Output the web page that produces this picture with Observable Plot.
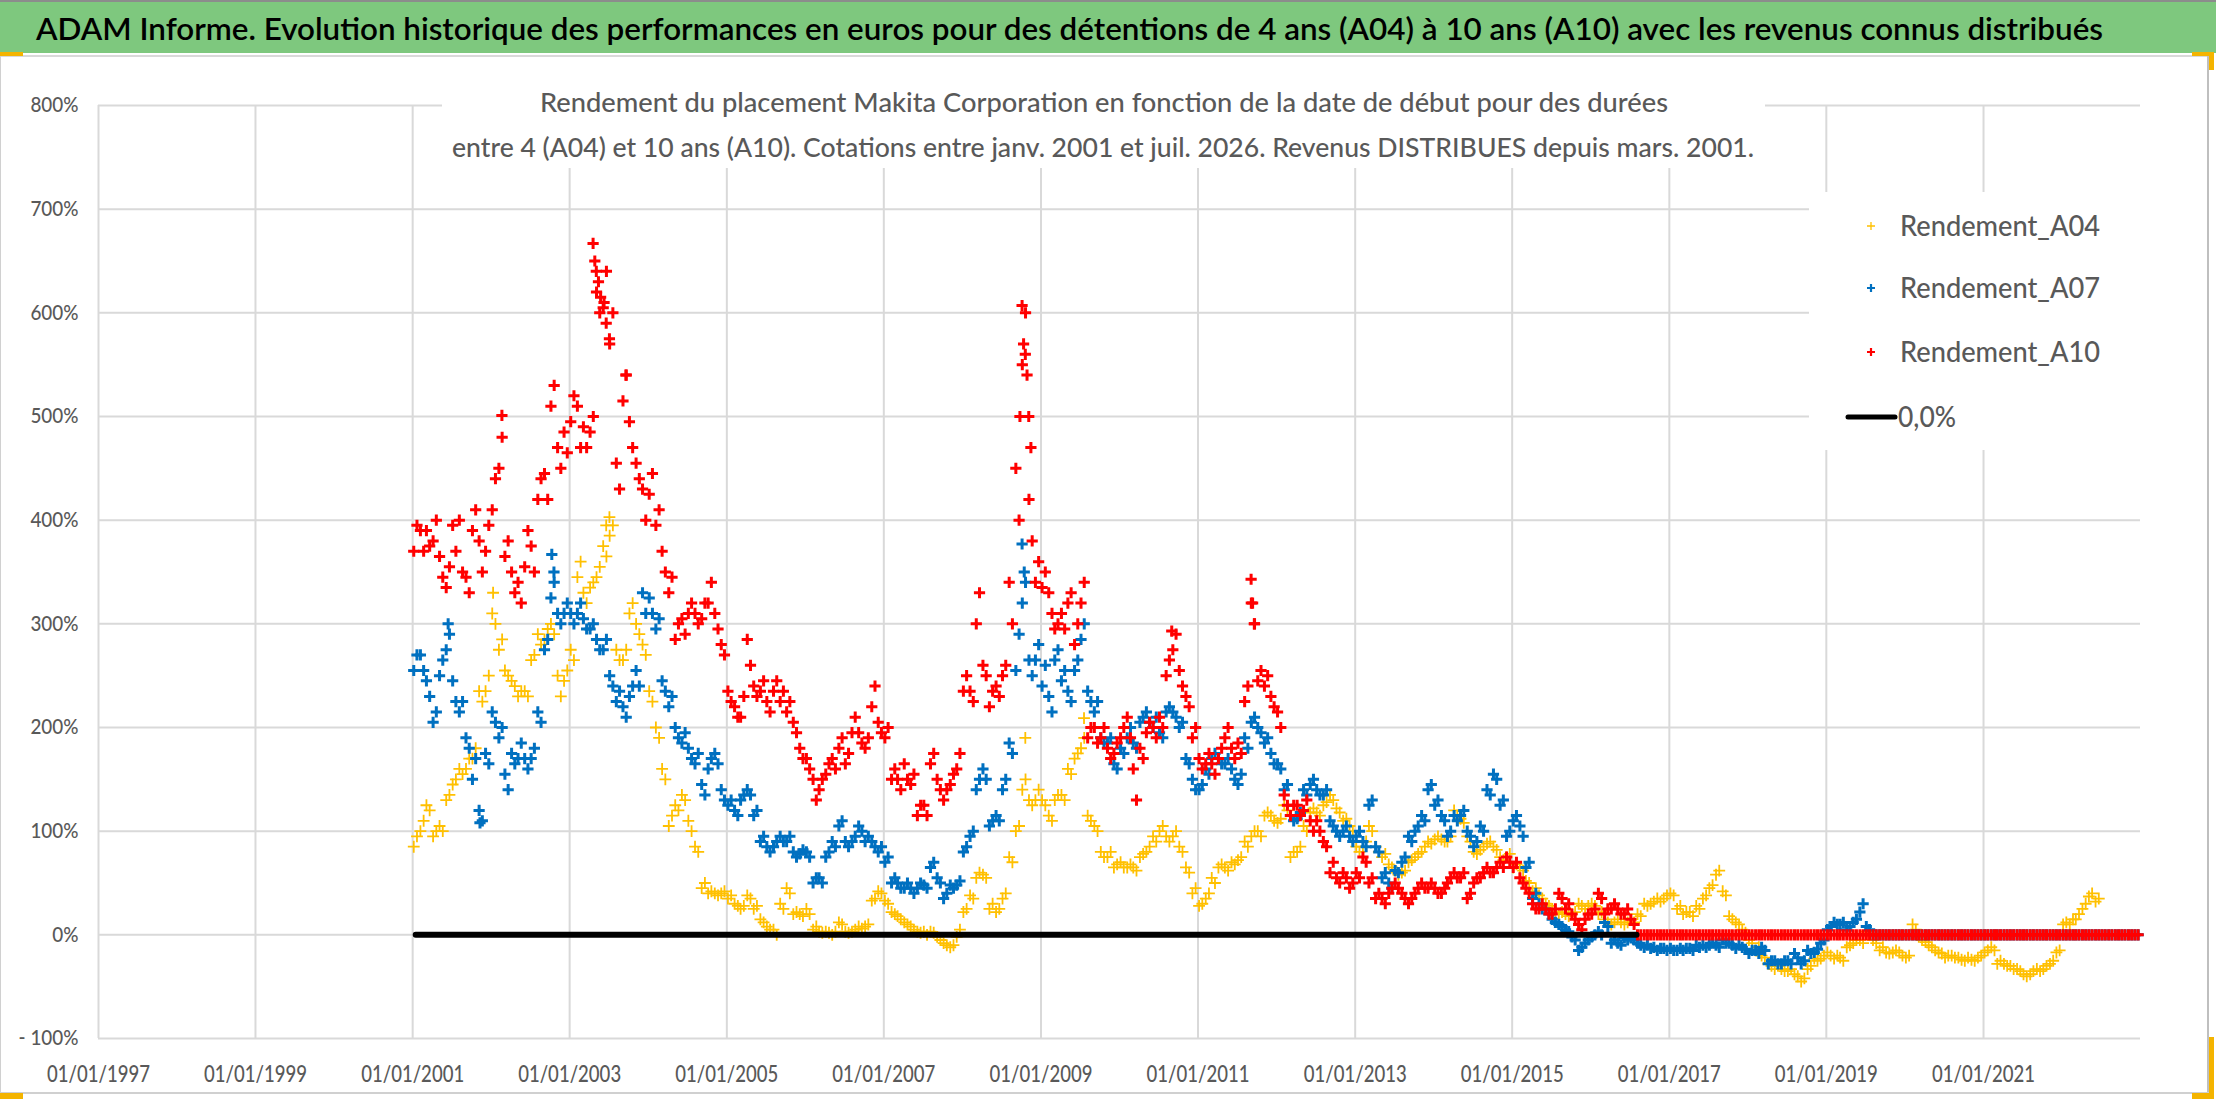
<!DOCTYPE html>
<html><head><meta charset="utf-8">
<script src="https://cdn.jsdelivr.net/npm/d3@7"></script>
<script src="https://cdn.jsdelivr.net/npm/@observablehq/plot@0.6"></script>
<style>
body{margin:0;background:#fff;}
#chart{position:relative;width:2216px;height:1102px;overflow:hidden;background:#fff;font-family:Lato,sans-serif;}
#plot{position:absolute;left:0;top:54px;}
#ov{position:absolute;left:0;top:0;pointer-events:none;}
</style></head><body>
<div id="chart"><div id="plot"></div><svg id="ov" width="2216" height="1102"></svg></div>
<script>
const TITLE = "ADAM Informe. Evolution historique des performances en euros pour des détentions de 4 ans (A04) à 10 ans (A10) avec les revenus connus distribués";
const SUBTITLE = [
  "Rendement du placement Makita Corporation en fonction de la date de début pour des durées",
  "entre 4 (A04) et 10 ans (A10). Cotations entre janv. 2001 et juil. 2026. Revenus DISTRIBUES depuis mars. 2001."
];
const seriesNames = ["Rendement_A04", "Rendement_A07", "Rendement_A10"];
const zeroName = "0,0%";
const seriesColors = ["#FFC000", "#0070C0", "#FF0000"];
const xTickYears = [1997, 1999, 2001, 2003, 2005, 2007, 2009, 2011, 2013, 2015, 2017, 2019, 2021];
const yTicks = [-100, 0, 100, 200, 300, 400, 500, 600, 700, 800];
const xDomain = ["1997-01-01", "2023-01-01"];
const startYear = 2001; // monthly values, first month = janv. 2001

// Rendement_A04 (%), early-month reading, one value per month from janv. 2001
const a04 = [
  85,100,125,95,105,130,145,160,160,170,235,235,
  310,275,255,245,230,235,265,290,285,300,250,245,
  275,345,330,335,345,375,385,275,265,310,300,280,
  235,200,160,105,125,135,110,85,45,40,40,40,
  35,30,25,38,25,15,8,5,30,45,20,20,
  25,5,3,3,0,12,3,3,8,8,33,42,
  33,22,18,12,8,3,3,3,-2,-8,-12,-2,
  22,38,55,58,25,22,35,75,100,140,130,130,
  130,115,130,135,160,170,180,115,105,80,75,65,
  70,65,65,75,80,95,100,95,95,85,65,40,
  28,35,55,65,65,70,72,90,95,100,115,115,
  108,125,75,80,105,118,118,125,135,122,110,105,
  85,85,105,85,75,68,62,60,70,75,80,90,
  92,92,90,120,112,95,80,82,88,85,75,75,
  65,65,52,42,38,30,25,20,20,20,30,25,
  30,20,15,10,15,10,15,20,30,30,35,35,
  40,25,20,22,28,35,45,58,42,18,12,5,
  -5,-15,-20,-28,-33,-33,-35,-38,-45,-33,-23,-23,
  -17,-23,-22,-12,-8,-5,3,-5,-15,-17,-17,-17,
  -22,10,-2,-7,-12,-17,-22,-20,-22,-25,-24,-22,
  -17,-12,-28,-28,-30,-33,-38,-38,-33,-33,-28,-17,
  10,10,15,25,37,32
];
// Rendement_A04 (%), late-month reading (other side of the cluster)
const a04Late = [
  95,110,120,100,100,135,150,155,170,180,225,250,
  300,285,250,240,235,230,270,280,295,290,230,255,
  265,360,320,340,355,365,395,265,275,320,290,270,
  225,190,150,115,120,130,100,80,50,42,38,42,
  38,28,28,35,28,12,5,0,25,40,22,18,
  20,8,2,2,3,10,2,5,6,10,35,40,
  30,20,15,10,5,2,0,2,-5,-10,-10,5,
  25,35,60,55,30,25,40,70,105,150,125,140,
  125,110,135,130,155,175,190,110,100,75,80,68,
  65,68,62,78,85,90,105,90,100,80,60,45,
  30,40,50,68,62,68,75,85,100,95,118,110,
  112,120,80,85,100,122,115,128,130,118,112,100,
  80,90,100,80,78,65,58,62,72,78,85,88,
  95,90,95,115,108,90,78,85,90,82,72,78,
  68,62,50,45,35,28,22,22,18,22,28,28,
  28,22,12,12,12,12,12,18,28,32,32,38,
  38,28,22,18,25,38,48,62,38,15,10,2,
  -8,-12,-22,-30,-30,-35,-33,-40,-42,-30,-25,-20,
  -20,-20,-25,-10,-5,-8,0,-8,-12,-18,-15,-20,
  -20,5,-5,-10,-15,-18,-20,-22,-24,-22,-25,-20,
  -15,-15,-25,-30,-33,-35,-40,-35,-35,-30,-25,-15,
  12,15,20,30,40,35
];
// Rendement_A07 (%), early-month reading, from janv. 2001
const a07 = [
  255,270,245,205,250,275,245,215,190,150,120,175,
  215,190,155,175,170,170,170,215,275,325,310,310,
  310,310,305,295,285,275,250,225,220,230,255,330,
  325,295,245,220,200,185,180,165,145,160,175,140,
  125,120,130,140,115,90,85,85,95,90,80,78,
  80,50,55,75,90,105,90,90,105,90,90,80,
  70,50,50,45,45,45,48,65,55,35,48,48,
  80,95,140,160,105,115,140,185,255,320,265,265,
  240,230,265,245,235,255,285,235,215,190,185,165,
  180,190,185,205,215,200,195,215,215,200,170,150,
  140,160,170,170,165,160,145,190,205,200,185,175,
  165,140,115,112,140,145,140,135,110,100,100,95,
  95,90,125,85,55,50,62,70,95,100,115,140,
  125,115,95,115,115,100,85,105,140,155,125,95,
  110,105,65,35,30,25,15,10,5,-2,-15,-8,
  -2,3,12,-8,-8,-3,-3,-8,-12,-13,-15,-13,
  -13,-15,-15,-13,-10,-10,-10,-10,-5,-8,-13,-12,
  -18,-15,-12,-28,-25,-28,-25,-18,-28,-15,-17,-8,
  5,12,10,5,12,22,8,0,0,0,0,0,
  0,0,0,0,0,0,0,0,0,0,0,0,
  0,0,0,0,0,0,0,0,0,0,0,0,
  0,0,0,0,0,0,0,0,0,0,0,0
];
// Rendement_A07 (%), late-month reading
const a07Late = [
  270,255,230,215,265,290,225,225,180,170,110,165,
  205,200,140,165,185,160,180,205,285,340,300,320,
  300,320,295,300,275,285,240,235,210,240,240,310,
  310,305,235,230,190,195,170,175,135,170,165,130,
  130,115,135,135,120,95,80,90,90,95,75,82,
  75,55,50,80,85,110,85,95,100,95,85,85,
  75,55,45,50,40,50,45,70,50,40,45,52,
  85,100,150,150,110,110,150,175,290,340,250,280,
  260,215,275,255,225,265,300,225,225,185,190,160,
  175,200,180,210,205,210,190,220,210,205,165,140,
  145,155,175,165,170,150,155,180,210,195,190,165,
  160,145,110,118,135,150,135,140,105,95,105,90,
  100,85,130,80,60,45,60,75,90,105,110,145,
  130,110,100,110,120,95,90,100,135,150,130,100,
  115,95,70,40,25,20,12,8,3,-5,-12,-5,
  0,0,8,-5,-10,-5,-5,-10,-10,-12,-13,-15,
  -15,-13,-13,-15,-12,-12,-8,-12,-8,-10,-10,-14,
  -15,-18,-15,-25,-28,-25,-28,-22,-25,-18,-14,-5,
  8,10,12,8,15,30,5,0,0,0,0,0,
  0,0,0,0,0,0,0,0,0,0,0,0,
  0,0,0,0,0,0,0,0,0,0,0,0,
  0,0,0,0,0,0,0,0,0,0,0,0
];
// Rendement_A10 (%), early-month reading, from janv. 2001
const a10 = [
  370,390,390,380,365,335,395,400,345,390,380,370,
  410,450,365,350,340,355,375,420,445,510,470,485,
  495,510,490,485,620,605,570,455,515,495,455,430,
  425,395,370,330,285,305,310,310,305,320,310,280,
  235,220,210,285,240,235,225,235,225,215,205,180,
  170,150,140,155,170,180,165,195,195,180,220,205,
  190,150,150,165,145,115,125,165,150,130,145,160,
  235,235,300,260,220,240,250,340,450,550,420,340,
  335,330,295,310,320,280,320,190,200,190,180,175,
  190,210,160,180,195,200,210,250,275,255,230,190,
  170,165,165,170,190,180,185,225,320,245,240,230,
  215,135,115,125,120,110,110,90,60,55,60,45,
  60,75,50,35,35,40,50,40,30,40,50,45,
  45,40,50,60,55,35,50,55,65,60,70,75,
  65,55,45,30,25,25,20,40,25,20,10,15,
  20,40,20,25,25,20,15,0,0,0,0,0,
  0,0,0,0,0,0,0,0,0,0,0,0,
  0,0,0,0,0,0,0,0,0,0,0,0,
  0,0,0,0,0,0,0,0,0,0,0,0,
  0,0,0,0,0,0,0,0,0,0,0,0,
  0,0,0,0,0,0,0,0,0,0,0,0,
  0,0,0,0,0,0,0,0,0,0,0,0
];
// Rendement_A10 (%), late-month reading
const a10Late = [
  395,370,375,400,345,355,370,350,330,410,350,395,
  440,480,380,330,320,390,350,440,420,530,450,465,
  520,470,470,500,600,640,600,430,540,470,440,400,
  445,410,350,345,300,290,320,300,320,340,295,270,
  225,210,230,260,230,245,215,245,235,225,195,170,
  160,130,150,165,160,190,175,210,185,190,240,195,
  200,160,140,150,155,125,115,175,140,140,155,175,
  250,225,330,250,235,230,260,300,400,600,380,360,
  350,310,300,295,330,300,340,200,185,200,170,185,
  200,190,130,170,205,190,200,265,290,240,220,200,
  160,175,155,180,200,170,175,240,300,255,250,220,
  200,125,125,115,130,100,100,85,70,50,55,50,
  55,70,55,40,30,45,45,35,35,45,45,50,
  40,45,55,55,60,40,55,60,60,65,65,70,
  70,50,40,25,30,20,25,35,30,15,5,20,
  25,35,25,30,20,25,10,0,0,0,0,0,
  0,0,0,0,0,0,0,0,0,0,0,0,
  0,0,0,0,0,0,0,0,0,0,0,0,
  0,0,0,0,0,0,0,0,0,0,0,0,
  0,0,0,0,0,0,0,0,0,0,0,0,
  0,0,0,0,0,0,0,0,0,0,0,0,
  0,0,0,0,0,0,0,0,0,0,0,0
];
// isolated extreme points
const a04Extra = [["2002-01-10",330],["2003-07-05",403],["2003-06-20",395],["2008-10-20",190],["2009-07-20",209]];
const a07Extra = [["2001-06-15",300],["2002-10-10",367],["2002-10-20",350],["2008-10-05",377],["2008-10-15",350],["2001-11-10",108]];
const a10Extra = [["2002-02-20",501],["2003-04-20",667],["2003-04-28",650],["2003-05-05",640],["2003-05-15",630],
  ["2003-05-25",615],["2003-06-10",610],["2003-06-20",590],["2003-07-05",575],["2003-09-20",540],
  ["2008-09-25",500],["2008-10-05",607],["2008-10-12",570],["2008-10-20",560],["2008-10-28",540],
  ["2008-11-05",500],["2008-11-15",470],["2010-09-01",293],["2011-09-05",343],["2011-09-12",320],["2011-09-20",300]];
const zeroLineDates = ["2001-01-15", "2016-08-01"];

// ---------- build rows ----------
const utc = s => new Date(s + "T00:00:00Z");
const monthRows = (vals, day, name) => vals.map((v, i) => ({date: new Date(Date.UTC(startYear, i, day)), value: v, series: name}));
const extraRows = (list, name) => list.map(([d, v]) => ({date: utc(d), value: v, series: name}));
const rows = [
  monthRows(a04, 6, seriesNames[0]).concat(monthRows(a04Late, 21, seriesNames[0]), extraRows(a04Extra, seriesNames[0])),
  monthRows(a07, 6, seriesNames[1]).concat(monthRows(a07Late, 21, seriesNames[1]), extraRows(a07Extra, seriesNames[1])),
  monthRows(a10, 6, seriesNames[2]).concat(monthRows(a10Late, 21, seriesNames[2]), extraRows(a10Extra, seriesNames[2]))
];
const zeroRows = zeroLineDates.map(d => ({date: utc(d), value: 0}));
const xTicks = xTickYears.map(y => new Date(Date.UTC(y, 0, 1)));
const fmtX = d3.utcFormat("%d/%m/%Y");
const fmtY = v => v < 0 ? "- " + (-v) + "%" : v + "%";

const chart = Plot.plot({
  width: 2216, height: 1048,
  marginLeft: 98, marginRight: 76, marginTop: 51, marginBottom: 64,
  style: {fontFamily: "Lato, sans-serif", fontSize: "22px", color: "#595959", background: "transparent", overflow: "visible"},
  x: {type: "utc", domain: xDomain.map(utc), ticks: xTicks, tickFormat: fmtX, tickSize: 0, tickPadding: 27, label: null},
  y: {domain: [yTicks[0], yTicks[yTicks.length - 1]], ticks: yTicks, tickFormat: fmtY, tickSize: 0, tickPadding: 20, label: null},
  marks: [
    Plot.ruleX(xTicks, {stroke: "#d9d9d9", strokeWidth: 2}),
    Plot.ruleY(yTicks, {stroke: "#d9d9d9", strokeWidth: 2}),
    Plot.dot(rows[0], {x: "date", y: "value", symbol: "plus", r: 3.9, stroke: seriesColors[0], strokeWidth: 1.8}),
    Plot.dot(rows[1], {x: "date", y: "value", symbol: "plus", r: 3.7, stroke: seriesColors[1], strokeWidth: 3}),
    Plot.dot(rows[2], {x: "date", y: "value", symbol: "plus", r: 3.7, stroke: seriesColors[2], strokeWidth: 3}),
    Plot.line(zeroRows, {x: "date", y: "value", stroke: "#000", strokeWidth: 6, strokeLinecap: "round"})
  ]
});
document.getElementById("plot").appendChild(chart);

// tick label fonts (narrow Calibri-like look)
d3.select(chart).selectAll("text").each(function() {
  const t = this.textContent;
  if (/^\d\d\/\d\d\/\d{4}$/.test(t)) {
    this.setAttribute("font-size", 23);
    this.setAttribute("font-weight", 500);
    this.setAttribute("fill", "#595959");
    this.setAttribute("textLength", 103);
    this.setAttribute("lengthAdjust", "spacingAndGlyphs");
  } else if (/%$/.test(t)) {
    this.setAttribute("font-size", 21);
    this.setAttribute("font-weight", 500);
    this.setAttribute("fill", "#595959");
    const w = this.getComputedTextLength();
    this.setAttribute("textLength", (w * 0.9).toFixed(1));
    this.setAttribute("lengthAdjust", "spacingAndGlyphs");
  }
});

// ---------- overlay: title bar, subtitle, legend, frame ----------
const ov = d3.select("#ov");
ov.append("rect").attr("x", 0).attr("y", 0).attr("width", 2216).attr("height", 53).attr("fill", "#7ec87e");
ov.append("rect").attr("x", 0).attr("y", 0).attr("width", 2216).attr("height", 2).attr("fill", "#8c8c8c");
ov.append("rect").attr("x", 0).attr("y", 55).attr("width", 2208).attr("height", 2).attr("fill", "#d9d9d9");
ov.append("text").text(TITLE).attr("x", 36).attr("y", 40).attr("font-size", 30).attr("font-weight", 600)
  .attr("font-family", "Lato, sans-serif")
  .attr("fill", "#000").attr("textLength", 2067).attr("lengthAdjust", "spacingAndGlyphs");

// subtitle box
ov.append("rect").attr("x", 442).attr("y", 58).attr("width", 1323).attr("height", 110).attr("fill", "#fff");
const subX = [540, 452], subY = [112, 157], subW = [1128, 1302];
SUBTITLE.forEach((s, i) => {
  ov.append("text").text(s).attr("x", subX[i]).attr("y", subY[i]).attr("font-size", 27).attr("font-weight", 500)
    .attr("font-family", "Lato, sans-serif").attr("fill", "#595959")
    .attr("textLength", subW[i]).attr("lengthAdjust", "spacingAndGlyphs");
});

// legend box
ov.append("rect").attr("x", 1809).attr("y", 192).attr("width", 333).attr("height", 258).attr("fill", "#fff");
const legY = [226, 288, 352, 417];
const legSW = [1.3, 2.2, 2.2];
seriesNames.forEach((n, i) => {
  ov.append("path").attr("d", `M${1867},${legY[i]}h8M${1871},${legY[i] - 4}v8`)
    .attr("stroke", seriesColors[i]).attr("stroke-width", legSW[i]).attr("fill", "none");
  ov.append("text").text(n).attr("x", 1900).attr("y", legY[i]).attr("dy", "0.36em").attr("font-size", 29).attr("font-weight", 500)
    .attr("font-family", "Lato, sans-serif").attr("fill", "#595959")
    .attr("textLength", 200).attr("lengthAdjust", "spacingAndGlyphs");
});
ov.append("line").attr("x1", 1848).attr("x2", 1895).attr("y1", legY[3]).attr("y2", legY[3])
  .attr("stroke", "#000").attr("stroke-width", 5).attr("stroke-linecap", "round");
ov.append("text").text(zeroName).attr("x", 1898).attr("y", legY[3]).attr("dy", "0.36em").attr("font-size", 29).attr("font-weight", 500)
  .attr("font-family", "Lato, sans-serif").attr("fill", "#595959")
  .attr("textLength", 58).attr("lengthAdjust", "spacingAndGlyphs");

// chart frame and selection handles
ov.append("rect").attr("x", 2207).attr("y", 55).attr("width", 2).attr("height", 1039).attr("fill", "#bfbfbf");
ov.append("rect").attr("x", 0).attr("y", 1092).attr("width", 2209).attr("height", 2).attr("fill", "#d0d0d0");
ov.append("rect").attr("x", 0).attr("y", 55).attr("width", 1).attr("height", 1039).attr("fill", "#d0d0d0");
const orange = "#f4b400";
[[0, 52, 23, 4], [2192, 52, 22, 4], [2209, 52, 5, 18], [0, 1093, 23, 6], [2192, 1093, 22, 6], [2209, 1037, 5, 62]]
  .forEach(([x, y, w, h]) => ov.append("rect").attr("x", x).attr("y", y).attr("width", w).attr("height", h).attr("fill", orange));
</script>
</body></html>
